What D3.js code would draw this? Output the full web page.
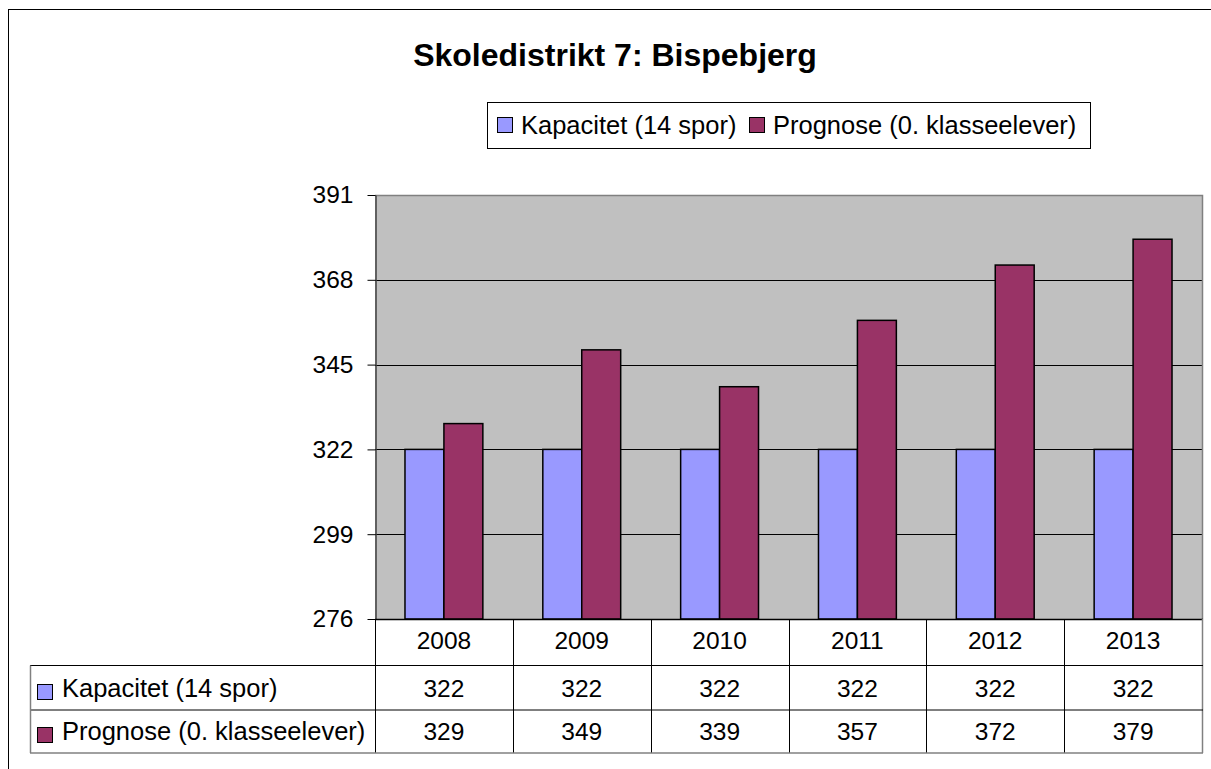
<!DOCTYPE html>
<html>
<head>
<meta charset="utf-8">
<script src="https://cdn.jsdelivr.net/npm/d3@7"></script>
<style>
  body { margin: 0; background: white; }
  svg { display: block; font-family: "Liberation Sans", Arial, sans-serif; }
</style>
</head>
<body>
<svg width="1211" height="769"></svg>
<script>
// data
var years = ["2008", "2009", "2010", "2011", "2012", "2013"];
var seriesNames = ["Kapacitet (14 spor)", "Prognose (0. klasseelever)"];
var kapacitet = [322, 322, 322, 322, 322, 322];
var prognose = [329, 349, 339, 357, 372, 379];
var yTicks = [276, 299, 322, 345, 368, 391];
var colors = ["#9999ff", "#993366"];

var seriesValues = [kapacitet, prognose];

// plot area position
var plot = {left: 375, right: 1202, top: 195, bottom: 619};
var table = {left: 30, header: 665.5, row1: 710, row2: 753};

var svg = d3.select("svg");

// outer chart frame (runs off the right and bottom of the window)
svg.append("rect")
    .attr("x", 8.5).attr("y", 9.5)
    .attr("width", 1400).attr("height", 900)
    .attr("fill", "white")
    .attr("stroke", "#000")
    .attr("stroke-width", 1);

// scales
var x = d3.scaleBand().domain(years).range([plot.left, plot.right]).padding(0);
var x1 = d3.scaleBand().domain(d3.range(2)).range([0, x.bandwidth()])
    .paddingInner(0).paddingOuter(0.77);
var y = d3.scaleLinear().domain([276, 391]).range([plot.bottom, plot.top]);

// title
svg.append("text")
    .attr("x", 615).attr("y", 66)
    .attr("text-anchor", "middle")
    .style("font-size", "32px")
    .style("font-weight", "bold")
    .text("Skoledistrikt 7: Bispebjerg");

// legend box
var legend = svg.append("g");
legend.append("rect")
    .attr("x", 487.5).attr("y", 102.5)
    .attr("width", 603).attr("height", 46)
    .attr("fill", "white")
    .attr("stroke", "#000");
var legendX = [497, 749];
seriesNames.forEach(function (name, i) {
  legend.append("rect")
      .attr("x", legendX[i] + 0.5).attr("y", 117.5)
      .attr("width", 15).attr("height", 15)
      .attr("fill", colors[i])
      .attr("stroke", "#000");
  legend.append("text")
      .attr("x", legendX[i] + 24).attr("y", 134)
      .style("font-size", "25.5px")
      .text(name);
});

// plot background
svg.append("rect")
    .attr("x", plot.left).attr("y", plot.top)
    .attr("width", plot.right - plot.left)
    .attr("height", plot.bottom - plot.top)
    .attr("fill", "#c0c0c0");

// gridlines
svg.append("g")
    .selectAll("line")
    .data(yTicks.slice(1, -1))
    .join("line")
    .attr("x1", plot.left).attr("x2", plot.right)
    .attr("y1", function (d) { return Math.round(y(d)) + 0.5; })
    .attr("y2", function (d) { return Math.round(y(d)) + 0.5; })
    .attr("stroke", "#000");

// top and right border of the plot
svg.append("path")
    .attr("d", "M" + plot.left + "," + (plot.top + 0.5) + "H" + (plot.right + 0.5) + "V" + plot.bottom)
    .attr("fill", "none")
    .attr("stroke", "#808080")
    .attr("stroke-width", 1.5);

// bars
svg.append("g")
    .selectAll("g")
    .data(years)
    .join("g")
    .attr("transform", function (d) { return "translate(" + x(d) + ",0)"; })
    .selectAll("rect")
    .data(function (d, i) { return seriesValues.map(function (s, k) { return {k: k, v: s[i]}; }); })
    .join("rect")
    .attr("x", function (d) { return x1(d.k); })
    .attr("width", x1.bandwidth())
    .attr("y", function (d) { return y(d.v); })
    .attr("height", function (d) { return plot.bottom - y(d.v); })
    .attr("fill", function (d) { return colors[d.k]; })
    .attr("stroke", "#000")
    .attr("stroke-width", 1.5);

// y axis
var yAxis = svg.append("g")
    .attr("transform", "translate(" + (plot.left + 0.5) + ",0)")
    .call(d3.axisLeft(y).tickValues(yTicks).tickSize(8).tickPadding(14).tickSizeOuter(0));
yAxis.select(".domain").attr("stroke", "#404040").attr("stroke-width", 1.5);
yAxis.selectAll(".tick line").attr("stroke", "#000");
yAxis.selectAll("text")
    .style("font-size", "24.5px")
    .style("font-family", "'Liberation Sans', Arial, sans-serif")
    .attr("fill", "#000");

// x axis line
svg.append("line")
    .attr("x1", plot.left).attr("x2", plot.right + 1)
    .attr("y1", plot.bottom + 0.5).attr("y2", plot.bottom + 0.5)
    .attr("stroke", "#000").attr("stroke-width", 1.5);

// data table below the plot
var tbl = svg.append("g");

// column separators
var colEdges = years.map(function (d) { return x(d); }).concat([plot.right]);
tbl.selectAll("line.col")
    .data(colEdges)
    .join("line")
    .attr("class", "col")
    .attr("x1", function (d) { return Math.round(d) + 0.5; })
    .attr("x2", function (d) { return Math.round(d) + 0.5; })
    .attr("y1", plot.bottom).attr("y2", table.row2)
    .attr("stroke", function (d, i) { return i === colEdges.length - 1 ? "#808080" : "#000"; })
    .attr("stroke-width", function (d, i) { return i === colEdges.length - 1 ? 1.5 : 1; });

// row separators
var rowLines = [table.header, table.row1, table.row2];
tbl.selectAll("line.row")
    .data(rowLines)
    .join("line")
    .attr("class", "row")
    .attr("x1", table.left).attr("x2", plot.right + 1)
    .attr("y1", function (d) { return d; })
    .attr("y2", function (d) { return d; })
    .attr("stroke", function (d, i) { return i === 2 ? "#808080" : "#000"; })
    .attr("stroke-width", function (d, i) { return i === 2 ? 1.5 : 1; });

// left edge of the table
tbl.append("line")
    .attr("x1", table.left + 0.5).attr("x2", table.left + 0.5)
    .attr("y1", table.header).attr("y2", table.row2)
    .attr("stroke", "#808080").attr("stroke-width", 1.5);

// year labels
tbl.selectAll("text.year")
    .data(years)
    .join("text")
    .attr("class", "year")
    .attr("x", function (d) { return x(d) + x.bandwidth() / 2; })
    .attr("y", 649)
    .attr("text-anchor", "middle")
    .style("font-size", "24.5px")
    .text(function (d) { return d; });

// row labels and values
var rowMid = [688, 731];
seriesNames.forEach(function (name, i) {
  tbl.append("rect")
      .attr("x", 37.5).attr("y", rowMid[i] - 3.5)
      .attr("width", 15).attr("height", 15)
      .attr("fill", colors[i])
      .attr("stroke", "#000");
  tbl.append("text")
      .attr("x", 62).attr("y", rowMid[i] + 9)
      .style("font-size", "25.5px")
      .text(name);
  tbl.selectAll("text.v" + i)
      .data(seriesValues[i])
      .join("text")
      .attr("class", "v" + i)
      .attr("x", function (d, j) { return x(years[j]) + x.bandwidth() / 2; })
      .attr("y", rowMid[i] + 9)
      .attr("text-anchor", "middle")
      .style("font-size", "24.5px")
      .text(function (d) { return d; });
});
</script>
</body>
</html>
